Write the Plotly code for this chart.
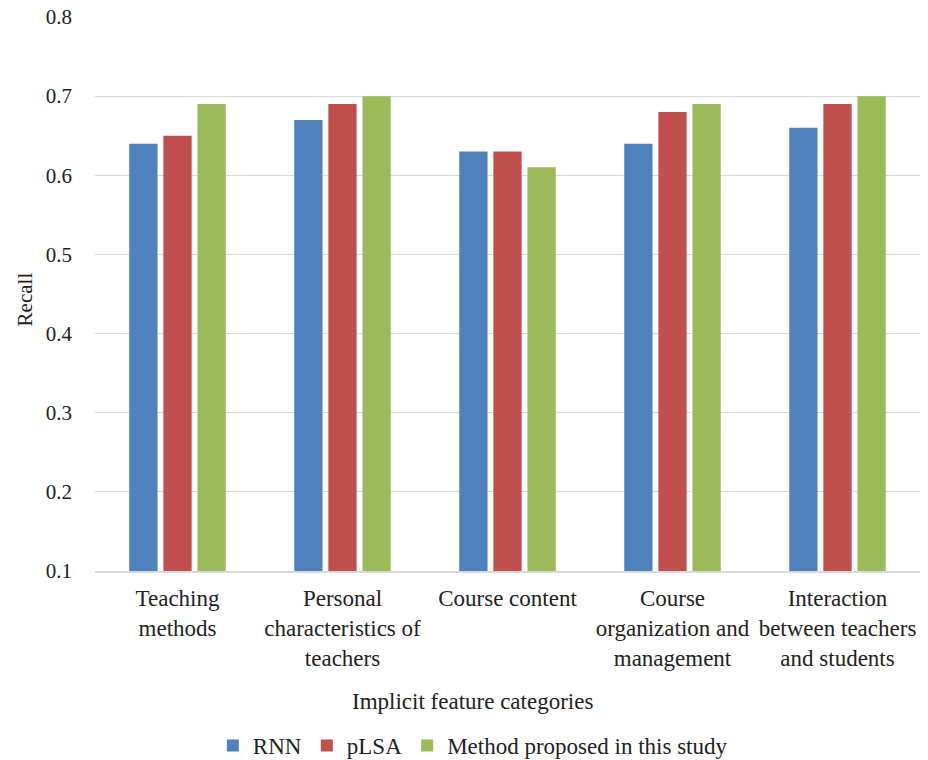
import plotly.graph_objects as go

categories = ["Teaching<br>methods", "Personal<br>characteristics of<br>teachers", "Course content",
              "Course<br>organization and<br>management", "Interaction<br>between teachers<br>and students"]
rnn = [0.64, 0.67, 0.63, 0.64, 0.66]
plsa = [0.65, 0.69, 0.63, 0.68, 0.69]
proposed = [0.69, 0.70, 0.61, 0.69, 0.70]
y_ticks = [0.1, 0.2, 0.3, 0.4, 0.5, 0.6, 0.7, 0.8]

FONT = "'Liberation Serif', 'Times New Roman', 'DejaVu Serif', serif"
FS = 23
fig = go.Figure()
for name, vals, col in [("RNN", rnn, "#4F81BD"), ("pLSA", plsa, "#C0504D"),
                        ("Method proposed in this study", proposed, "#9BBB59")]:
    fig.add_trace(go.Bar(x=categories, y=vals, name=name, marker_color=col,
                         marker_line_width=0))

fig.update_layout(
    width=928, height=760,
    margin=dict(l=95, r=8, t=17, b=189, autoexpand=False),
    paper_bgcolor="white", plot_bgcolor="white",
    font=dict(family=FONT, size=FS, color="#222222"),
    barmode="group", bargap=0.38, bargroupgap=0.17,
    showlegend=True,
    legend=dict(orientation="h", x=0.458, xanchor="center", y=-0.315, yanchor="middle",
                font=dict(family=FONT, size=FS), itemwidth=30, tracegroupgap=0),
    xaxis=dict(showgrid=False, showline=True, linecolor="#D9D9D9", linewidth=1.5,
               ticks="", tickfont=dict(family=FONT, size=FS), ticklabelstandoff=6),
    yaxis=dict(range=[0.1, 0.8], tickvals=y_ticks, ticktext=[f"{v:.1f}" for v in y_ticks],
               showgrid=True, gridcolor="#D9D9D9", gridwidth=1.2, zeroline=False,
               showline=False, ticks="", tickfont=dict(family=FONT, size=21),
               ticklabelstandoff=22),
    annotations=[
        dict(text="Implicit feature categories", x=0.458, xref="paper", y=-0.235, yref="paper",
             yanchor="middle", showarrow=False, font=dict(family=FONT, size=FS)),
        dict(text="Recall", textangle=-90, x=-0.085, xref="paper", y=0.49, yref="paper",
             xanchor="center", yanchor="middle", showarrow=False, font=dict(family=FONT, size=21)),
    ],
)
fig.write_html("out.html")
